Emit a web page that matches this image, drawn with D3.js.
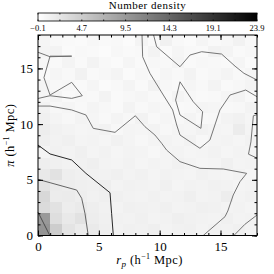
<!DOCTYPE html>
<html>
<head>
<meta charset="utf-8">
<script src="https://cdn.jsdelivr.net/npm/d3@7"></script>
<style>
  body { margin: 0; background: #fff; }
  text { font-family: "Liberation Serif", "DejaVu Serif", serif; fill: #000; }
</style>
</head>
<body>
<script>
"use strict";

// number density per 1x1 Mpc bin, rows from pi = 17 (top) down to pi = 0
const density = [
  [0.8,0.6,0.5,0.4,0.7,0.5,0.6,0.3,0.9,0.5,1.2,0.6,0.4,0.8,0.5,0.7,1.1,0.6],
  [0.9,1.0,0.4,0.6,0.5,0.3,0.7,0.5,0.6,1.0,0.4,0.8,0.6,0.5,1.1,0.9,0.5,0.7],
  [0.7,0.5,0.9,0.5,1.0,0.6,0.4,0.8,0.5,0.7,0.6,0.9,0.5,0.7,0.6,0.5,0.8,0.4],
  [0.5,0.8,0.6,1.1,0.5,0.7,0.9,0.4,0.7,0.5,0.8,0.6,1.0,0.5,0.7,0.9,0.6,0.8],
  [1.0,0.6,0.7,0.5,0.8,0.4,0.6,0.9,0.5,1.1,0.7,0.5,0.8,0.6,1.0,0.5,0.7,0.9],
  [0.8,0.9,0.5,0.7,0.6,1.0,0.5,0.7,0.8,0.6,0.5,0.9,0.7,0.5,0.6,0.8,1.0,0.6],
  [1.1,0.7,0.8,0.6,0.9,0.7,0.5,1.0,0.6,0.8,0.7,0.5,0.6,0.9,0.8,0.6,0.7,1.0],
  [1.3,0.9,0.7,1.0,0.8,0.6,0.9,0.7,1.1,0.6,0.8,0.7,0.9,0.6,0.7,1.0,1.2,0.8],
  [1.6,1.2,1.0,0.8,0.9,1.1,0.7,0.9,0.8,1.0,0.7,0.9,0.8,1.1,0.9,0.8,1.7,0.9],
  [1.4,1.1,1.3,0.9,1.0,0.8,1.2,0.9,0.7,0.9,1.0,0.8,1.1,0.7,0.9,1.0,0.8,1.1],
  [0.9,1.2,1.0,1.3,0.9,1.1,0.8,1.0,0.9,0.7,0.9,1.0,0.8,0.9,1.1,0.8,1.0,0.9],
  [1.5,1.3,1.1,1.2,1.4,1.0,0.9,1.1,0.8,1.0,0.9,1.2,1.0,0.8,0.9,1.3,0.9,1.0],
  [2.0,2.6,1.5,1.3,1.2,1.1,1.3,1.0,1.2,0.9,1.1,1.0,0.9,1.2,1.0,0.9,1.1,0.8],
  [2.6,1.8,1.6,1.4,1.3,1.5,1.0,1.2,1.1,1.0,1.3,0.9,1.1,1.0,1.2,1.1,0.9,1.0],
  [3.6,1.7,1.8,1.5,1.2,1.4,1.3,1.1,1.0,1.2,1.0,1.1,1.4,1.0,1.1,1.6,1.0,1.2],
  [3.3,2.6,1.6,1.9,1.5,1.2,1.0,1.3,1.2,1.1,1.3,1.0,1.1,1.3,1.2,1.0,1.1,0.9],
  [9.5,3.0,2.0,2.6,1.6,1.3,1.2,1.1,1.3,1.0,1.1,1.4,1.2,1.1,1.0,1.3,1.0,1.1],
  [10.0,4.6,2.4,1.8,1.9,1.4,1.1,1.3,1.2,1.4,1.0,1.2,1.3,1.0,1.2,1.1,1.3,1.0]
];

const cbTicks = [-0.1, 4.7, 9.5, 14.3, 19.1, 23.9];
const xTicks = [0, 5, 10, 15];
const yTicks = [0, 5, 10, 15];

// contour lines, [r_p, pi]
const lineA = [[0,16.45],[0.99,16.05],[2.77,16.1],[0.99,16.1],[0.49,14.17],[0.99,12.61],[2.77,13.75],[3.64,12.55],[2.77,12.31],[0.99,12.55],[0,12.3]];
const lineB = [[0,11.62],[0.99,11.62],[2.77,11.27],[3.94,10.82],[4.54,9.62],[6.33,9.26],[8.0,10.75],[8.79,9.77],[9.61,9.02],[10.16,8.28],[10.57,7.67],[11.67,6.63],[13.31,6.03],[15.23,5.97],[17.15,5.58],[16.6,4.83],[16.05,3.64],[15.6,2.2],[15.37,1.69],[13.58,0]];
const lineC = [[8.55,18],[8.6,16.05],[9.2,14.56],[10.3,12.61],[11.07,11.27],[11.4,9.92],[11.67,9.02],[13.31,7.83],[14.13,8.57],[14.54,9.92],[14.95,11.27],[15.78,12.61],[17.07,13.06],[18,12.46]];
const lineD = [[9.5,18],[9.75,16.95],[11.67,15.15],[12.49,16.2],[13.45,16.5],[15.09,16.29],[16.2,15.2],[16.93,14.56],[18,13.96]];
const lineE = [[18,10.85],[17.7,10.75],[17.5,8.4],[17.3,7.3],[18,6.95]];
const lineF = [[16.1,0],[17.0,1.0],[18,1.84]];
const lineG = [[11.67,13.8],[11.31,12.16],[11.67,10.82],[13.39,9.62],[13.53,11.11],[12.76,12.01],[11.67,13.8]];
const lineH = [[0,8.12],[0.99,7.32],[2.77,6.78],[3.94,5.58],[5.92,3.84],[6.05,1.99],[6.19,0]];
const lineI = [[0,5.04],[0.99,4.74],[3.18,4.08],[3.59,3.34],[3.86,1.99],[4.13,0]];
const lineJ = [[0,2.1],[0.97,0]];

const contours = [lineA, lineB, lineC, lineD, lineE, lineF, lineG, lineH, lineI, lineJ];
const contourColors = ["#666","#666","#666","#666","#666","#666","#666","#111","#555","#444"];

const W = 274, H = 274;
const mLeft = 38, mRight = 257, mTop = 35, mBottom = 235.5;

const svg = d3.select("body").append("svg")
  .attr("width", W).attr("height", H);

const x = d3.scaleLinear().domain([0, 18]).range([mLeft, mRight]);
const y = d3.scaleLinear().domain([0, 18]).range([mBottom, mTop]);
const color = d3.scaleLinear().domain([-0.1, 23.9]).range(["#ffffff", "#000000"]);

// cells
const nRows = density.length;
const cells = [];
density.forEach(function (row, r) {
  row.forEach(function (v, c) {
    cells.push({ i: c, j: nRows - 1 - r, v: v });
  });
});

svg.append("g").selectAll("rect")
  .data(cells)
  .enter()
  .append("rect")
  .attr("x", function (d) { return x(d.i); })
  .attr("y", function (d) { return y(d.j + 1); })
  .attr("width", function (d) { return x(d.i + 1) - x(d.i) + 0.3; })
  .attr("height", function (d) { return y(d.j) - y(d.j + 1) + 0.3; })
  .attr("fill", function (d) { return color(d.v); })
  .attr("shape-rendering", "crispEdges");

// contours
const line = d3.line().x(function (d) { return x(d[0]); }).y(function (d) { return y(d[1]); });
svg.append("g").selectAll("path")
  .data(contours)
  .enter()
  .append("path")
  .attr("d", line)
  .attr("fill", "none")
  .attr("stroke", function (d, i) { return contourColors[i]; })
  .attr("stroke-width", 0.9);

// axes with inward ticks on all four sides
function styleAxis(g) {
  g.select(".domain").remove();
  g.selectAll(".tick line").attr("stroke", "#000");
  g.selectAll("text").style("font-family", "'Liberation Serif', serif").style("font-size", "13px");
}
const minor = d3.range(0, 19);

svg.append("g").attr("transform", "translate(0," + mBottom + ")")
  .call(d3.axisBottom(x).tickValues(minor).tickSize(-2.5).tickFormat(""))
  .call(styleAxis);
svg.append("g").attr("transform", "translate(0," + mBottom + ")")
  .call(d3.axisBottom(x).tickValues(xTicks).tickSize(-5).tickPadding(6).tickFormat(d3.format("d")))
  .call(styleAxis);
svg.append("g").attr("transform", "translate(0," + mTop + ")")
  .call(d3.axisTop(x).tickValues(minor).tickSize(-2.5).tickFormat(""))
  .call(styleAxis);
svg.append("g").attr("transform", "translate(0," + mTop + ")")
  .call(d3.axisTop(x).tickValues(xTicks).tickSize(-5).tickFormat(""))
  .call(styleAxis);
svg.append("g").attr("transform", "translate(" + mLeft + ",0)")
  .call(d3.axisLeft(y).tickValues(minor).tickSize(-2.5).tickFormat(""))
  .call(styleAxis);
svg.append("g").attr("transform", "translate(" + mLeft + ",0)")
  .call(d3.axisLeft(y).tickValues(yTicks).tickSize(-5).tickPadding(5).tickFormat(d3.format("d")))
  .call(styleAxis);
svg.append("g").attr("transform", "translate(" + mRight + ",0)")
  .call(d3.axisRight(y).tickValues(minor).tickSize(-2.5).tickFormat(""))
  .call(styleAxis);
svg.append("g").attr("transform", "translate(" + mRight + ",0)")
  .call(d3.axisRight(y).tickValues(yTicks).tickSize(-5).tickFormat(""))
  .call(styleAxis);

svg.append("rect")
  .attr("x", mLeft).attr("y", mTop)
  .attr("width", mRight - mLeft).attr("height", mBottom - mTop)
  .attr("fill", "none").attr("stroke", "#000").attr("stroke-width", 1);

// axis titles
const xt = svg.append("text")
  .attr("x", (mLeft + mRight) / 2 + 2).attr("y", 264)
  .attr("text-anchor", "middle").style("font-size", "12.5px")
  .style("letter-spacing", "0.4px");
xt.append("tspan").style("font-style", "italic").text("r");
xt.append("tspan").attr("dy", 3).style("font-size", "9px").style("font-style", "italic").text("p");
xt.append("tspan").attr("dy", -3).text(" (h");
xt.append("tspan").attr("dy", -5).style("font-size", "8px").text("−1");
xt.append("tspan").attr("dy", 5).text(" Mpc)");

const yt = svg.append("text")
  .attr("transform", "translate(14," + ((mTop + mBottom) / 2) + ") rotate(-90)")
  .attr("text-anchor", "middle").style("font-size", "12.5px")
  .style("letter-spacing", "0.4px");
yt.append("tspan").style("font-style", "italic").text("π");
yt.append("tspan").text(" (h");
yt.append("tspan").attr("dy", -5).style("font-size", "8px").text("−1");
yt.append("tspan").attr("dy", 5).text(" Mpc)");

// colour bar
const cb = d3.scaleLinear().domain([-0.1, 23.9]).range([mLeft, mRight]);
const cbTop = 13, cbBottom = 21;
const cbSteps = d3.range(mLeft, mRight, 1);
svg.append("g").selectAll("rect")
  .data(cbSteps)
  .enter()
  .append("rect")
  .attr("x", function (d) { return d; })
  .attr("y", cbTop)
  .attr("width", 1.2)
  .attr("height", cbBottom - cbTop)
  .attr("fill", function (d) { return color(cb.invert(d + 0.5)); })
  .attr("shape-rendering", "crispEdges");
svg.append("rect")
  .attr("x", mLeft).attr("y", cbTop)
  .attr("width", mRight - mLeft).attr("height", cbBottom - cbTop)
  .attr("fill", "none").attr("stroke", "#000").attr("stroke-width", 0.8);

const cbMinor = d3.range(0, 11).map(function (k) { return -0.1 + 2.4 * k; });
const cbg = svg.append("g");
cbg.selectAll("line.t")
  .data(cbMinor).enter().append("line")
  .attr("x1", function (d) { return cb(d); }).attr("x2", function (d) { return cb(d); })
  .attr("y1", cbTop).attr("y2", cbTop + 1.5)
  .attr("stroke", "#000").attr("stroke-width", 0.8);
cbg.selectAll("line.b")
  .data(cbMinor).enter().append("line")
  .attr("x1", function (d) { return cb(d); }).attr("x2", function (d) { return cb(d); })
  .attr("y1", cbBottom - 1.5).attr("y2", cbBottom)
  .attr("stroke", "#000").attr("stroke-width", 0.8);

svg.append("g").selectAll("text")
  .data(cbTicks)
  .enter()
  .append("text")
  .attr("x", function (d) { return cb(d); })
  .attr("y", 31)
  .attr("text-anchor", "middle")
  .style("font-size", "8.5px")
  .text(function (d) { return d3.format(".1f")(d); });

svg.append("text")
  .attr("x", (mLeft + mRight) / 2).attr("y", 9)
  .attr("text-anchor", "middle")
  .style("font-size", "11px")
  .style("letter-spacing", "0.5px")
  .text("Number density");
</script>
</body>
</html>
